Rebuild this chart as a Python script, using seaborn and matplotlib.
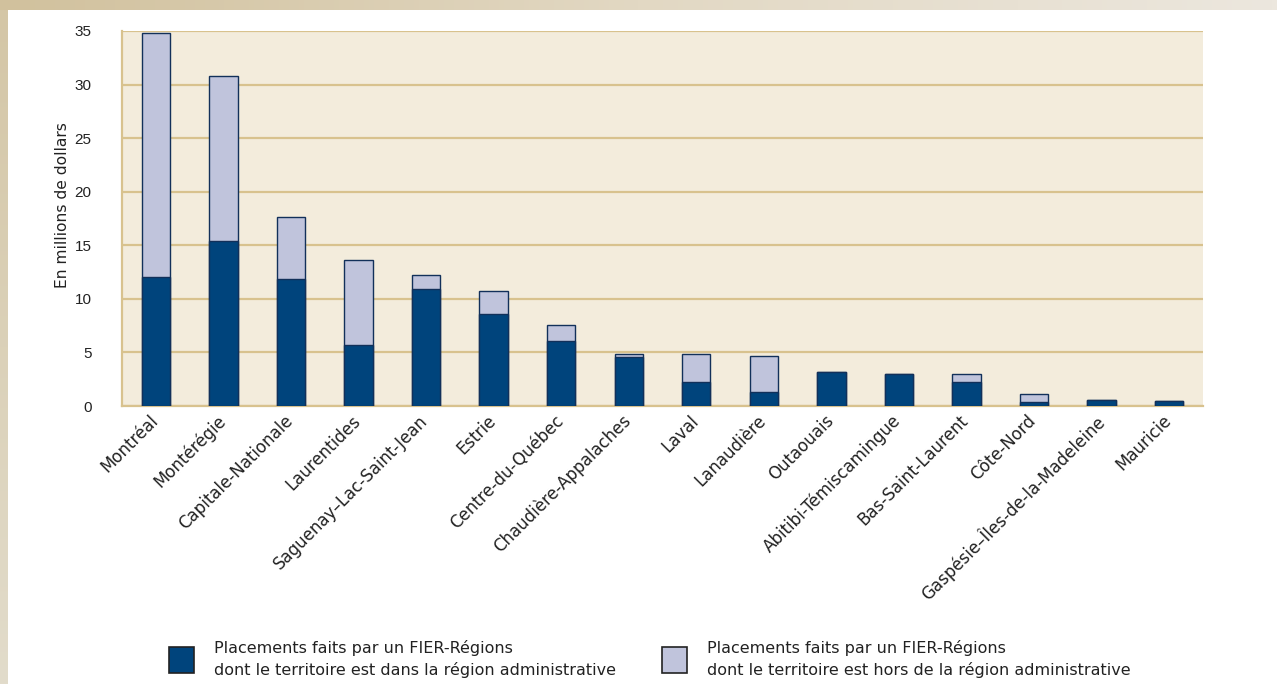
import numpy as np
import seaborn as sns
import matplotlib.pyplot as plt
from matplotlib.patches import Patch
from matplotlib.colors import LinearSegmentedColormap
from matplotlib.transforms import ScaledTranslation

regions = ['Montréal', 'Montérégie', 'Capitale-Nationale', 'Laurentides',
           'Saguenay–Lac-Saint-Jean', 'Estrie', 'Centre-du-Québec',
           'Chaudière-Appalaches', 'Laval', 'Lanaudière', 'Outaouais',
           'Abitibi-Témiscamingue', 'Bas-Saint-Laurent', 'Côte-Nord',
           'Gaspésie–Îles-de-la-Madeleine', 'Mauricie']
# placements by a FIER whose territory is inside the region
inside = [12.0, 15.4, 11.9, 5.7, 10.9, 8.55, 6.05, 4.55, 2.2, 1.3,
          3.15, 3.0, 2.2, 0.35, 0.6, 0.45]
# placements by a FIER whose territory is outside the region
outside = [22.8, 15.4, 5.75, 7.9, 1.35, 2.2, 1.5, 0.3, 2.65, 3.4,
           0.0, 0.0, 0.8, 0.8, 0.0, 0.0]
total = [a + b for a, b in zip(inside, outside)]

dark_blue = '#00447c'
light_blue = '#c0c4dc'
edge = '#12305a'
grid_col = '#d8c28e'
plot_bg = '#f3ecdc'
txt = '#222222'

sns.set_style('white')
plt.rcParams['font.family'] = ['Liberation Sans', 'DejaVu Sans']

fig = plt.figure(figsize=(12.77, 6.84), dpi=100)

# decorative tan frame on top and left edges
frame = fig.add_axes([0, 0, 1, 1], zorder=-5)
frame.axis('off')
frame.set_xlim(0, 1)
frame.set_ylim(0, 1)
top_grad = np.linspace(0, 1, 256).reshape(1, -1)
frame.imshow(top_grad, extent=[0, 1, 1 - 10 / 684, 1], aspect='auto',
             cmap=LinearSegmentedColormap.from_list('top', ['#d1c19d', '#e2d8c3', '#ece7de']))
left_grad = np.linspace(1, 0, 256).reshape(-1, 1)
frame.imshow(left_grad, extent=[0, 8 / 1277, 0, 1 - 10 / 684], aspect='auto',
             cmap=LinearSegmentedColormap.from_list('left', ['#e2dccb', '#d4c6a6']))

ax = fig.add_axes([122 / 1277, 1 - 406 / 684, (1203 - 122) / 1277, (406 - 31) / 684])
ax.set_facecolor(plot_bg)

sns.barplot(x=regions, y=total, color=light_blue, saturation=1, width=0.42,
            edgecolor=edge, linewidth=1.0, ax=ax, zorder=3)
sns.barplot(x=regions, y=inside, color=dark_blue, saturation=1, width=0.42,
            edgecolor=edge, linewidth=1.0, ax=ax, zorder=4)

ax.set_xlim(-0.5, len(regions) - 0.5)
ax.set_ylim(0, 35)
ax.set_yticks(range(0, 36, 5))
ax.yaxis.grid(True, color=grid_col, linewidth=1.6, zorder=1)
ax.set_axisbelow(True)

for side in ['top', 'right']:
    ax.spines[side].set_visible(False)
for side in ['left', 'bottom']:
    ax.spines[side].set_color(grid_col)
    ax.spines[side].set_linewidth(1.6)

ax.tick_params(axis='y', length=0, pad=22, labelsize=11, labelcolor=txt)
ax.tick_params(axis='x', length=0, pad=4)
ax.set_xticks(range(len(regions)))
ax.set_xticklabels(regions, rotation=45, ha='right', rotation_mode='anchor',
                   fontsize=12, color=txt, family='DejaVu Sans')
shift = ScaledTranslation(-7 / 100, 0, fig.dpi_scale_trans)
for lab in ax.get_xticklabels():
    lab.set_transform(lab.get_transform() + shift)
ax.set_xlabel('')
ax.set_ylabel('En millions de dollars', fontsize=11.2, color=txt, family='DejaVu Sans')
ax.yaxis.set_label_coords(-0.048, 0.536)

handles = [Patch(facecolor=dark_blue, edgecolor=txt, linewidth=1.2),
           Patch(facecolor=light_blue, edgecolor=txt, linewidth=1.2)]
labels = ['Placements faits par un FIER-Régions\ndont le territoire est dans la région administrative',
          'Placements faits par un FIER-Régions\ndont le territoire est hors de la région administrative']
leg = fig.legend(handles, labels, ncol=2, frameon=False, loc='lower left',
                 bbox_to_anchor=(0.121, -0.012), prop={'family': 'DejaVu Sans', 'size': 11.5},
                 handlelength=1.6, handleheight=2.1, handletextpad=1.2,
                 columnspacing=2.9, labelcolor=txt)
for t in leg.get_texts():
    t.set_linespacing(1.45)

fig.savefig('out.png', dpi=100, facecolor='white')
